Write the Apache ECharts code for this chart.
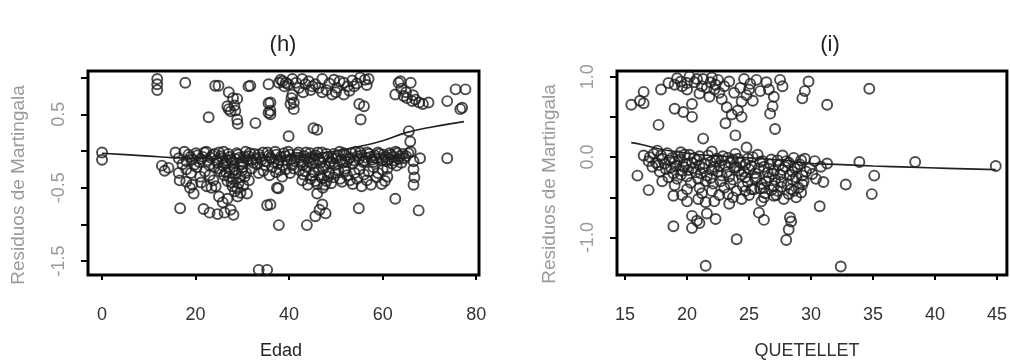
<!DOCTYPE html>
<html>
<head>
<meta charset="utf-8">
<script src="https://cdn.jsdelivr.net/npm/echarts@6/dist/echarts.min.js"></script>
<style>
  html, body { margin: 0; padding: 0; background: #fff; }
  #chart { width: 1010px; height: 362px; }
</style>
</head>
<body>
<div id="chart"></div>
<script>
// ---- Panel (h): martingale residuals against age (Edad) ----
const edadTicks = [0, 20, 40, 60, 80];
const edadResidTicks = [1.0, 0.5, 0.0, -0.5, -1.0, -1.5];
const edadResidLabels = [0.5, -0.5, -1.5];

// residuals of subjects with an event (upper cloud)
const edadUpper = [
  [11.8,0.98],[11.8,0.91],[11.8,0.83],[17.8,0.93],[24.2,0.89],[24.9,0.89],[22.8,0.46],
  [26.8,0.61],[27.5,0.54],[27.1,0.80],[28.0,0.72],[28.9,0.71],[28.3,0.62],[27.1,0.57],
  [28.5,0.55],[28.9,0.43],[29.0,0.37],[31.3,0.88],[31.7,0.89],[32.8,0.38],[35.6,0.91],
  [35.6,0.65],[35.6,0.52],[36.0,0.66],[36.0,0.55],[36.0,0.50],[37.8,0.93],[38.6,0.95],
  [39.3,0.93],[39.8,0.91],[40.7,0.98],[40.7,0.77],[41.0,0.66],[41.0,0.57],[40.3,0.64],
  [40.5,0.72],[39.9,0.20],[42.8,0.98],[43.5,0.91],[44.2,0.95],[45.0,0.88],[45.6,0.91],
  [45.2,0.31],[46.3,0.86],[47.1,0.98],[47.1,0.80],[48.0,0.83],[49.2,0.77],[50.2,0.86],
  [50.8,0.95],[51.7,0.93],[51.7,0.77],[52.5,0.88],[53.5,0.96],[54.5,0.92],[55.2,1.00],
  [56.2,0.97],[57.0,0.98],[55.0,0.64],[55.3,0.43],[56.0,0.61],[46.0,0.29],[62.7,0.77],
  [63.4,0.93],[63.8,0.95],[64.5,0.75],[65.2,0.72],[66.0,0.93],[66.3,0.68],[67.0,0.70],
  [67.8,0.66],[68.6,0.64],[69.8,0.66],[73.8,0.68],[75.6,0.84],[77.7,0.84],[76.6,0.57],
  [77.0,0.59],[65.6,0.27],[65.9,0.13],
  [38.2,0.97],[39.0,0.88],[41.5,0.93],[42.1,0.86],[43.0,0.80],[44.6,0.83],[48.6,0.92],
  [49.6,0.97],[50.0,0.80],[52.9,0.82],[53.9,0.88],[56.6,0.90],[64.0,0.85],[65.0,0.80],
  [66.5,0.76]
];

// residuals of censored subjects (band just under zero)
const edadBand = [
  [0,-0.02],[0,-0.12],[12.8,-0.20],[13.4,-0.27],[14.2,-0.23],[15.7,-0.02],[16.4,-0.10],
  [17.2,-0.18],[18.5,-0.05],[19.3,-0.12],[20.1,-0.03],[20.8,-0.15],[21.5,-0.08],[22.3,-0.01],
  [22.9,-0.19],[23.6,-0.06],[24.4,-0.13],[25.0,-0.02],[25.7,-0.10],[26.3,-0.17],[27.0,-0.04],
  [27.6,-0.12],[28.2,-0.21],[28.8,-0.03],[29.4,-0.09],[30.1,-0.15],[30.7,-0.01],[31.3,-0.07],
  [31.9,-0.13],[32.6,-0.04],[33.2,-0.18],[33.8,-0.09],[34.4,-0.02],[35.1,-0.14],[35.7,-0.06],
  [36.3,-0.11],[37.0,-0.01],[37.6,-0.17],[38.2,-0.08],[38.9,-0.03],[39.5,-0.13],[40.1,-0.05],
  [40.7,-0.19],[41.4,-0.09],[42.0,-0.02],[42.6,-0.15],[43.2,-0.07],[43.9,-0.11],[44.5,-0.03],
  [45.1,-0.17],[45.7,-0.06],[46.4,-0.12],[47.0,-0.02],[47.6,-0.20],[48.3,-0.08],[48.9,-0.14],
  [49.5,-0.04],[50.1,-0.10],[50.8,-0.01],[51.4,-0.16],[52.0,-0.06],[52.7,-0.11],[53.3,-0.03],
  [53.9,-0.13],[54.6,-0.07],[55.2,-0.02],[55.8,-0.15],[56.4,-0.09],[57.1,-0.04],[57.7,-0.12],
  [58.3,-0.06],[59.0,-0.02],[59.6,-0.10],[60.2,-0.05],[60.9,-0.14],[61.5,-0.03],[62.1,-0.08],
  [62.8,-0.01],[63.1,-0.03],[63.4,-0.11],[64.3,-0.04],[65.0,-0.07],[66.0,-0.01],[68.0,-0.10],
  [73.8,-0.10],
  [17.6,-0.01],[18.1,-0.14],[18.9,-0.08],[19.7,-0.19],[20.4,-0.06],[21.1,-0.11],[21.9,-0.02],
  [22.6,-0.13],[23.2,-0.09],[24.0,-0.04],[24.7,-0.16],[25.4,-0.07],[26.0,-0.01],[26.7,-0.13],
  [27.3,-0.08],[27.9,-0.16],[28.5,-0.11],[29.1,-0.05],[29.7,-0.18],[30.4,-0.08],[31.0,-0.12],
  [31.6,-0.03],[32.3,-0.16],[32.9,-0.10],[33.5,-0.05],[34.1,-0.12],[34.8,-0.19],[35.4,-0.02],
  [36.0,-0.09],[36.7,-0.15],[37.3,-0.05],[37.9,-0.12],[38.6,-0.19],[39.2,-0.07],[39.8,-0.01],
  [40.4,-0.11],[41.1,-0.14],[41.7,-0.05],[42.3,-0.09],[42.9,-0.19],[43.6,-0.02],[44.2,-0.14],
  [44.8,-0.08],[45.4,-0.12],[46.1,-0.02],[46.7,-0.16],[47.3,-0.09],[48.0,-0.04],[48.6,-0.17],
  [49.2,-0.10],[49.8,-0.19],[50.4,-0.06],[51.1,-0.12],[51.7,-0.03],[52.3,-0.15],[53.0,-0.09],
  [53.6,-0.17],[54.2,-0.01],[54.9,-0.11],[55.5,-0.06],[56.1,-0.13],[56.7,-0.02],[57.4,-0.08],
  [58.0,-0.15],[58.6,-0.10],[59.3,-0.04],[59.9,-0.13],[60.6,-0.08],[61.2,-0.11],[61.8,-0.05],
  [62.5,-0.13],[63.7,-0.07],[64.7,-0.10],[65.5,-0.03],
  [24.0,-0.22],[25.3,-0.28],[26.1,-0.33],[27.3,-0.25],[28.0,-0.38],[28.6,-0.30],[29.2,-0.44],
  [29.9,-0.27],[30.5,-0.35],[26.8,-0.41],[27.9,-0.48],[28.4,-0.55],[29.0,-0.62],[32.0,-0.24],
  [33.5,-0.30],[36.4,-0.22],[37.2,-0.29],[38.5,-0.35],[39.3,-0.25],[42.2,-0.26],[43.0,-0.32],
  [43.8,-0.22],[44.6,-0.38],[45.3,-0.29],[46.0,-0.45],[46.7,-0.34],[47.3,-0.24],[48.0,-0.41],
  [48.6,-0.30],[49.5,-0.36],[50.5,-0.27],[51.3,-0.42],[52.4,-0.33],[53.6,-0.45],[54.5,-0.38],
  [55.5,-0.48],[56.6,-0.40],[57.5,-0.46],[58.7,-0.36],[59.8,-0.45],[60.5,-0.41],[61.0,-0.35],
  [52.0,-0.24],[55.0,-0.25],[58.0,-0.22],[61.0,-0.24],[63.0,-0.20],[66.6,-0.14],[66.6,-0.25],
  [66.8,-0.36],[66.6,-0.46],
  [25.0,-0.24],[25.9,-0.20],[26.5,-0.29],[27.2,-0.35],[27.7,-0.43],[28.3,-0.26],[28.9,-0.51],
  [29.5,-0.36],[30.0,-0.22],[30.8,-0.30],[31.4,-0.40],[29.6,-0.57],[30.2,-0.47],[34.5,-0.27],
  [35.8,-0.33],[38.0,-0.26],[40.2,-0.30],[41.0,-0.24],[42.8,-0.40],[43.5,-0.28],[44.0,-0.46],
  [44.9,-0.33],[45.6,-0.41],[46.3,-0.26],[47.0,-0.37],[47.6,-0.46],[48.3,-0.35],[49.0,-0.44],
  [49.9,-0.30],[50.9,-0.38],[51.8,-0.27],[53.0,-0.40],[54.0,-0.30],[56.0,-0.32],[57.0,-0.28],
  [59.0,-0.30],[60.0,-0.26],[62.0,-0.17],[64.0,-0.16],[18.0,-0.25],[19.0,-0.30],[20.2,-0.22],
  [21.0,-0.35],[22.0,-0.28],[23.0,-0.33],[23.8,-0.40]
];

// more negative residuals
const edadLower = [
  [16.4,-0.30],[16.6,-0.40],[18.0,-0.42],[18.8,-0.50],[19.3,-0.46],[19.6,-0.58],[21.2,-0.43],
  [22.4,-0.48],[23.4,-0.50],[24.3,-0.48],[25.0,-0.62],[25.8,-0.70],[26.8,-0.65],[16.7,-0.78],
  [21.7,-0.79],[23.0,-0.84],[24.7,-0.86],[26.2,-0.84],[27.5,-0.80],[28.1,-0.87],[31.0,-0.58],
  [35.3,-0.74],[37.4,-0.50],[37.7,-0.51],[36.0,-0.73],[37.8,-1.01],[43.8,-1.01],[45.6,-0.89],
  [46.5,-0.80],[47.1,-0.73],[47.8,-0.85],[46.0,-0.58],[47.2,-0.50],[54.9,-0.78],[62.7,-0.65],
  [67.7,-0.81],[33.5,-1.62],[35.3,-1.62]
];

// smooth trend through the residuals
const edadTrend = [
  [0,-0.03],[5,-0.05],[10,-0.07],[15,-0.09],[20,-0.10],[25,-0.10],[30,-0.10],[35,-0.09],
  [40,-0.07],[45,-0.04],[50,0.00],[55,0.06],[60,0.14],[65,0.25],[70,0.32],[77.4,0.40]
];

// ---- Panel (i): martingale residuals against the Quetelet index ----
const queteTicks = [15, 20, 25, 30, 35, 40, 45];
const queteResidTicks = [1.0, 0.5, 0.0, -0.5, -1.0];
const queteResidLabels = [1.0, 0.0, -1.0];

const queteUpper = [
  [15.5,0.65],[16.5,0.81],[16.5,0.67],[16.2,0.70],[17.7,0.40],[17.9,0.84],[18.5,0.92],
  [19.2,0.98],[19.0,0.60],[19.5,0.94],[19.7,0.56],[20.0,0.84],[20.4,0.50],[20.4,0.66],
  [19.6,0.88],[20.2,1.00],[20.6,0.93],[21.0,0.79],[21.3,0.97],[21.6,0.86],[21.8,0.75],
  [22.0,0.99],[22.3,0.90],[22.6,0.80],[21.3,0.23],[22.8,0.72],[23.1,0.42],[23.2,0.62],
  [23.6,0.53],[23.4,0.94],[23.9,0.27],[24.1,0.58],[24.3,0.86],[24.4,0.50],[24.4,0.69],
  [24.6,0.97],[24.8,0.77],[25.1,0.91],[25.3,0.70],[24.8,0.12],[25.6,0.96],[25.9,0.82],
  [26.4,0.93],[26.6,0.84],[26.7,0.54],[26.9,0.63],[27.0,0.75],[27.1,0.35],[27.5,0.96],
  [27.7,0.88],[29.3,0.73],[29.5,0.82],[29.8,0.94],[31.3,0.65],[34.7,0.85],
  [20.8,0.97],[21.9,0.93],[22.5,0.96],[23.0,0.88],[23.8,0.80],[21.2,0.88],[22.2,0.84],
  [25.0,0.84],[20.0,0.92],[19.0,0.90]
];

const queteBand = [
  [16.5,0.02],[16.9,-0.05],[17.3,0.04],[17.7,-0.10],[18.0,-0.02],[18.4,0.05],[18.7,-0.13],
  [19.0,-0.06],[19.3,0.01],[19.6,-0.17],[19.9,-0.09],[20.2,0.03],[20.5,-0.14],[20.8,-0.04],
  [21.1,-0.20],[21.4,-0.08],[21.7,0.02],[22.0,-0.16],[22.3,-0.05],[22.6,-0.11],[22.9,0.01],
  [23.2,-0.19],[23.5,-0.07],[23.8,-0.13],[24.1,-0.02],[24.4,-0.22],[24.7,-0.09],[25.0,-0.15],
  [25.3,0.00],[25.6,-0.25],[25.9,-0.06],[26.2,-0.12],[26.5,-0.19],[26.8,-0.03],[27.1,-0.28],
  [27.4,-0.10],[27.7,-0.16],[28.0,-0.05],[28.3,-0.22],[28.6,-0.01],[28.9,-0.12],[29.2,-0.04],
  [29.6,-0.18],[30.3,-0.05],[30.8,-0.12],[31.3,-0.08],[31.0,-0.31],[30.4,-0.27],[29.4,-0.30],
  [33.9,-0.06],[38.4,-0.06],[44.9,-0.11],[17.2,-0.12],[17.8,-0.18],[18.2,-0.08],[18.9,-0.20],
  [19.4,-0.03],[20.0,-0.24],[20.6,-0.01],[21.0,-0.10],[21.9,-0.26],[22.4,-0.02],[22.8,-0.23],
  [23.3,-0.01],[23.7,-0.28],[24.2,-0.17],[24.9,-0.31],[25.5,-0.20],[26.0,-0.33],[26.6,-0.25],
  [27.0,-0.36],[27.5,-0.22],[28.1,-0.34],[28.5,-0.28],[29.0,-0.38],[22.1,-0.33],[23.0,-0.38],
  [24.0,-0.42],[25.2,-0.40],[26.3,-0.45],[27.3,-0.42],[28.2,-0.46],[28.8,-0.50],[21.5,-0.30],
  [20.3,-0.32],[19.2,-0.27],[18.5,-0.25],
  [17.0,0.00],[17.5,-0.07],[17.9,0.02],[18.3,-0.15],[18.6,-0.04],[19.1,-0.11],[19.5,-0.22],
  [19.8,0.03],[20.1,-0.16],[20.4,-0.07],[20.7,-0.19],[21.0,0.01],[21.3,-0.14],[21.6,-0.23],
  [21.9,-0.06],[22.2,-0.12],[22.5,-0.18],[22.8,-0.04],[23.1,-0.10],[23.4,-0.24],[23.7,-0.03],
  [24.0,-0.12],[24.3,-0.07],[24.6,-0.18],[24.9,-0.02],[25.2,-0.11],[25.5,-0.27],[25.8,-0.14],
  [26.1,-0.05],[26.4,-0.30],[26.7,-0.09],[27.0,-0.17],[27.3,-0.04],[27.6,-0.31],[27.9,-0.12],
  [28.2,-0.07],[28.5,-0.18],[28.8,-0.25],[29.1,-0.09],[29.5,-0.02],[29.9,-0.14],[30.1,-0.21],
  [18.0,-0.30],[19.0,-0.35],[20.0,-0.40],[21.0,-0.38],[22.0,-0.42],[22.6,-0.47],[23.5,-0.33],
  [24.5,-0.36],[25.0,-0.47],[25.9,-0.39],[26.8,-0.41],[27.6,-0.37],[28.4,-0.40],[29.2,-0.44],
  [21.2,-0.45],[23.3,-0.46],[26.0,-0.55],[27.8,-0.52],[24.4,-0.52],[17.6,0.08],[19.5,0.06],
  [22.0,0.07],
  [18.8,-0.01],[19.7,-0.12],[20.9,-0.27],[22.7,-0.30],[24.7,-0.25],[26.9,-0.21],[28.7,-0.14],
  [23.9,0.04],[25.7,0.03],[27.7,0.02],[26.2,-0.38],[27.2,-0.47],[28.6,-0.42]
];

const queteLower = [
  [16.0,-0.23],[16.9,-0.41],[18.9,-0.86],[18.9,-0.48],[19.6,-0.47],[20.0,-0.55],[20.9,-0.52],
  [21.5,-0.56],[22.2,-0.55],[23.4,-0.58],[23.7,-0.50],[24.7,-0.42],[25.4,-0.40],[26.2,-0.50],
  [27.0,-0.48],[20.4,-0.73],[20.8,-0.79],[21.0,-0.82],[21.6,-0.70],[22.3,-0.77],[20.4,-0.88],
  [21.5,-1.35],[24.0,-1.02],[25.8,-0.69],[26.2,-0.78],[28.0,-1.03],[28.2,-0.90],[28.4,-0.80],
  [28.3,-0.75],[29.3,-0.23],[29.3,-0.34],[30.7,-0.61],[32.8,-0.34],[32.4,-1.36],[35.1,-0.23],
  [34.9,-0.46]
];

const queteTrend = [
  [15.5,0.18],[16.5,0.15],[17.8,0.10],[19,0.07],[20,0.05],[21,0.03],[22,0.02],[23,0.01],
  [24,0.00],[25,-0.01],[26,-0.02],[27,-0.03],[28,-0.04],[29,-0.06],[30,-0.08],[32,-0.09],
  [35,-0.11],[38,-0.125],[41,-0.14],[44.9,-0.155]
];

// ---- shared styling ----
const FONT = '"Liberation Sans", Arial, sans-serif';
const ringStyle = { color: 'rgba(0,0,0,0)', borderColor: '#1e1e1e', borderWidth: 1.9 };
const trendStyle = { color: '#222', width: 1.6 };

function xAxisFor(gridIndex, min, max, ticks) {
  return {
    type: 'value', gridIndex, min, max,
    axisLine: { show: false, onZero: false },
    splitLine: { show: false },
    axisTick: { show: true, length: 5, customValues: ticks, lineStyle: { color: '#000', width: 2 } },
    axisLabel: {
      customValues: ticks, margin: 31,
      fontFamily: FONT, fontSize: 18, color: '#333',
      formatter: v => String(v)
    }
  };
}

function yAxisFor(gridIndex, min, max, ticks, labels) {
  return {
    type: 'value', gridIndex, min, max,
    axisLine: { show: false, onZero: false },
    splitLine: { show: false },
    axisTick: { show: true, length: 7, customValues: ticks, lineStyle: { color: '#000', width: 2 } },
    axisLabel: {
      customValues: labels, rotate: 90, margin: 20,
      fontFamily: FONT, fontSize: 18, color: '#9a9a9a',
      formatter: v => Number(v).toFixed(1)
    }
  };
}

function rings(data, i) {
  return {
    type: 'scatter', xAxisIndex: i, yAxisIndex: i, data,
    symbol: 'circle', symbolSize: 10, itemStyle: ringStyle,
    silent: true, animation: false
  };
}

function trend(data, i) {
  return {
    type: 'line', xAxisIndex: i, yAxisIndex: i, data,
    smooth: true, symbol: 'none', lineStyle: trendStyle,
    silent: true, animation: false, z: 5
  };
}

function label(text, x, y, size, fill, rotated) {
  return {
    type: 'text', x, y, rotation: rotated ? Math.PI / 2 : 0,
    style: {
      text, fill, font: size + 'px ' + FONT,
      align: 'center', verticalAlign: 'middle'
    }
  };
}

const chart = echarts.init(document.getElementById('chart'), null, { renderer: 'canvas' });
chart.setOption({
  backgroundColor: '#fff',
  animation: false,
  grid: [
    { left: 88, top: 71, width: 391, height: 204, show: true, borderColor: '#000', borderWidth: 3, backgroundColor: 'transparent' },
    { left: 617, top: 71, width: 390, height: 204, show: true, borderColor: '#000', borderWidth: 3, backgroundColor: 'transparent' }
  ],
  xAxis: [
    xAxisFor(0, -3, 80.6, edadTicks),
    xAxisFor(1, 14.35, 45.8, queteTicks)
  ],
  yAxis: [
    yAxisFor(0, -1.69, 1.09, edadResidTicks, edadResidLabels),
    yAxisFor(1, -1.465, 1.07, queteResidTicks, queteResidLabels)
  ],
  series: [
    rings(edadUpper, 0), rings(edadBand, 0), rings(edadLower, 0), trend(edadTrend, 0),
    rings(queteUpper, 1), rings(queteBand, 1), rings(queteLower, 1), trend(queteTrend, 1)
  ],
  graphic: [
    label('(h)', 283, 45, 22, '#222', false),
    label('(i)', 830, 45, 22, '#222', false),
    label('Edad', 281, 351, 18, '#222', false),
    label('QUETELLET', 807, 351, 18, '#333', false),
    label('Residuos de Martingala', 19, 185, 19, '#9a9a9a', true),
    label('Residuos de Martingala', 550, 184, 19, '#9a9a9a', true)
  ]
});
</script>
</body>
</html>
